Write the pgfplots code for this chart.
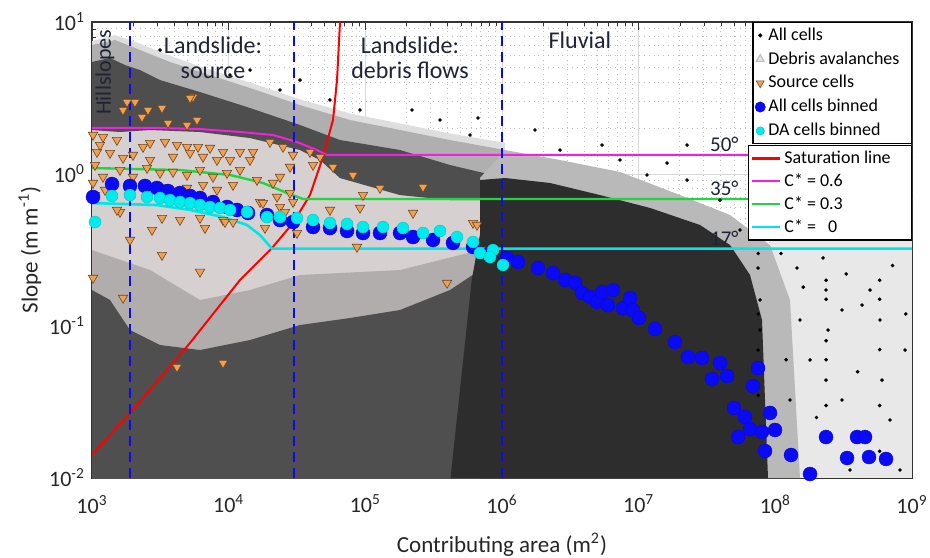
\documentclass[border=0pt]{standalone}
\usepackage{fontspec}
\setmainfont{Carlito}
\usepackage{pgfplots}
\pgfplotsset{compat=1.18}
\definecolor{dagray}{RGB}{214,208,208}
\definecolor{srcor}{RGB}{240,160,80}
\definecolor{srced}{RGB}{110,70,30}
\definecolor{binblue}{RGB}{10,10,245}
\definecolor{bincyan}{RGB}{0,235,235}
\definecolor{lnmag}{RGB}{245,30,225}
\definecolor{lngreen}{RGB}{30,215,60}
\definecolor{lncyan}{RGB}{0,230,230}
\definecolor{lbl}{RGB}{30,35,55}
\definecolor{cloudA}{RGB}{222,222,222}
\definecolor{cloudB}{RGB}{175,175,175}
\definecolor{cloudC}{RGB}{78,78,78}
\definecolor{cloudF}{RGB}{185,185,185}
\definecolor{cloudG}{RGB}{45,45,45}
\definecolor{cloudL}{RGB}{178,173,173}
\definecolor{cloudM}{RGB}{80,79,79}
\definecolor{cloudR}{RGB}{232,232,232}
\begin{document}
\begin{tikzpicture}
\begin{axis}[
  scale only axis, width=410pt, height=228pt,
  xmode=log, ymode=log, xmin=1e3, xmax=1e9, ymin=1e-2, ymax=10,
  xtick={1e3,1e4,1e5,1e6,1e7,1e8,1e9},
  xticklabels={10\textsuperscript{3},10\textsuperscript{4},10\textsuperscript{5},10\textsuperscript{6},10\textsuperscript{7},10\textsuperscript{8},10\textsuperscript{9}},
  ytick={1e-2,1e-1,1,10},
  yticklabels={10\textsuperscript{-2},10\textsuperscript{-1},10\textsuperscript{0},10\textsuperscript{1}},
  tick label style={font=\fontsize{11}{13}\selectfont, text=black!85},
  xticklabel style={yshift=-5pt},
  grid=both,
  major grid style={gray!30, line width=0.4pt},
  minor grid style={gray!50, dotted, line width=0.5pt},
  tick align=inside, major tick length=4pt, minor tick length=2pt,
  tick style={black!80},
  axis line style={line width=0.6pt, black!80},
  xlabel={Contributing area (m\textsuperscript{2})},
  ylabel={Slope (m m\textsuperscript{-1})},
  label style={font=\fontsize{11.5}{13}\selectfont, text=black!85},
  xlabel style={at={(axis description cs:0.5,-0.147)}, anchor=center},
  ylabel style={at={(axis description cs:-0.0756,0.5)}, anchor=center},
  legend style={at={(1,1)}, anchor=north east, font=\fontsize{9}{11}\selectfont,
    draw=black, line width=0.6pt, inner sep=1pt, nodes={inner sep=1.5pt}, row sep=1.2pt, cells={anchor=west}},
  legend image code/.code={\draw[mark repeat=2,mark phase=2,#1] plot coordinates {(0cm,0cm)(0.15cm,0cm)(0.3cm,0cm)};},
]
\coordinate (bl) at (rel axis cs:0,0);
\coordinate (tr) at (rel axis cs:1,1);

% debris avalanche cells region (light grey)
\addplot[fill=dagray, draw=none, forget plot] coordinates {(1000,2.008)(1897,2.008)(3146,2.008)(6166,1.977)(12100,1.890)(21090,1.806)(31620,1.623)(44260,1.438)(52450,1.334)(690200,1.334)(690200,0.01)(1000,0.01)} -- cycle;

% all cells cloud: density envelopes (sparse -> dense)
\addplot[fill=cloudR, draw=none, forget plot] coordinates {(9.142e7,0.368)(1e9,0.368)(1e9,0.01)(9.142e7,0.01)} -- cycle;
\addplot[fill=cloudA, draw=none, forget plot] coordinates {(1000,7.5)(1473,8.2)(2245,7.2)(3721,6.0)(6169,5.1)(14330,4.0)(33250,3.1)(77220,2.5)(179400,2.15)(416400,1.85)(1.052e6,1.6)(1.052e6,0.674)(416400,0.674)(179400,0.727)(65270,0.941)(46600,1.236)(33250,1.438)(14330,1.725)(6169,1.89)(2657,1.948)(1603,1.89)(1000,1.948)} -- cycle;
\addplot[fill=cloudB, draw=none, forget plot] coordinates {(1000,7.06)(1473,7.61)(2245,6.54)(3721,5.46)(6169,4.69)(14330,3.68)(33250,2.84)(77220,2.266)(179400,1.948)(416400,1.673)(1.052e6,1.438)(1.052e6,0.674)(416400,0.674)(179400,0.727)(65270,0.941)(46600,1.236)(33250,1.438)(14330,1.725)(6169,1.89)(2657,1.948)(1603,1.89)(1000,1.948)} -- cycle;
\addplot[fill=cloudC, draw=none, forget plot] coordinates {(1000,5.46)(1354,5.80)(1744,5.21)(2245,4.83)(3145,4.15)(6169,3.46)(14330,2.718)(33250,2.101)(65270,1.673)(179400,1.438)(416400,1.146)(1.052e6,0.941)(1.052e6,0.674)(416400,0.674)(179400,0.727)(65270,0.941)(46600,1.236)(33250,1.438)(14330,1.725)(6169,1.89)(2657,1.948)(1603,1.89)(1000,1.948)} -- cycle;
\addplot[fill=cloudF, draw=none, forget plot] coordinates {(1.052e6,1.438)(2.657e6,1.236)(7.30e6,1.031)(2.006e7,0.727)(4.66e7,0.537)(9.142e7,0.341)(1.28e8,0.1483)(1.515e8,0.01)(690200,0.01)(690200,0.941)} -- cycle;
\addplot[fill=cloudL, draw=none, forget plot] coordinates {(1000,0.316)(2657,0.2335)(6169,0.1483)(14330,0.1725)(33250,0.2165)(179400,0.2335)(690200,0.316)(690200,0.01)(1000,0.01)} -- cycle;
\addplot[fill=cloudM, draw=none, forget plot] coordinates {(1000,0.1725)(1354,0.1483)(1897,0.0941)(3145,0.075)(6169,0.0695)(14330,0.0809)(33250,0.1015)(77220,0.1129)(179400,0.1274)(416400,0.1725)(690200,0.2335)(690200,0.01)(1000,0.01)} -- cycle;
\addplot[fill=cloudG, draw=none, forget plot] coordinates {(690200,0.913)(1.052e6,0.941)(2.245e6,0.873)(5.212e6,0.727)(1.21e7,0.598)(2.81e7,0.462)(4.66e7,0.341)(6.526e7,0.2165)(7.988e7,0.1095)(8.403e7,0.0326)(8.838e7,0.01)(420000,0.01)(520000,0.06)(600000,0.2)(690200,0.4)} -- cycle;

% all cells: sparse individual cells
\addplot[only marks, mark=*, mark size=0.7pt, black] coordinates {(219500,2.637)(667400,2.335)(1.744e6,1.948)(5.392e6,1.551)(1.151e7,0.985)(1.612e7,1.181)(2.258e7,1.551)(2.258e7,0.913)(7.468e7,0.2407)(1.44e8,0.2407)(2.233e8,0.2803)(4.307e8,0.1374)(7.727e7,0.1483)(7.727e7,0.0941)(7.468e7,0.0695)(2.348e8,0.1725)(2.43e8,0.0941)(2.348e8,0.0441)(3.074e8,0.1274)(3.074e8,0.0326)(5.832e8,0.1095)(6.032e8,0.0441)(6.902e8,0.02407)(1.515e8,0.1095)(1.794e8,0.0598)(3.518e8,0.01129)(8.17e8,0.01129)(1.28e8,0.0326)(4.929e8,0.1725)(8.888e8,0.0695)(3145,6.54)(10230,4.48)(23740,3.57)(55130,3.07)(91410,2.637)(351800,2.266)(583200,1.806)(33250,4.15)(14330,4.83)(2.657e6,1.438)(7.30e6,1.236)(3.937e7,0.674)(5.513e7,0.428)(2.35e8,0.2)(2.35e8,0.15)(2.35e8,0.08)(2.35e8,0.06)(2.35e8,0.03)(2.35e8,0.02)(7.5e7,0.3)(7.5e7,0.12)(7.5e7,0.05)(7.5e7,0.035)(5.8e8,0.2)(5.8e8,0.15)(5.8e8,0.07)(5.8e8,0.03)(5.8e8,0.015)(1.1e8,0.3)(1.6e8,0.18)(3.3e8,0.22)(7.2e8,0.25)(9.0e8,0.12)(1.2e8,0.06)(4.0e8,0.05)(2.0e8,0.025)};
\addlegendentry{All cells}
\addlegendimage{only marks, mark=triangle*, mark size=2.3pt, mark options={fill=gray!20, draw=gray!50}}
\addlegendentry{\makebox[69pt][l]{Debris avalanches}}

% source cells
\addplot[only marks, mark=triangle*, mark size=2.7pt, mark options={rotate=180, fill=srcor, draw=srced, line width=0.3pt}, legend image post style={mark size=2.3pt}] coordinates {
(5483,3.212)(1686,2.637)(2063,2.977)(2569,2.637)(3252,2.718)(2322,2.371)(3598,2.165)(4956,2.101)(5867,2.266)
(1017,1.806)(1204,1.751)(1523,1.673)(2362,1.505)(2657,1.599)(3421,1.623)(4188,1.551)(4956,1.505)(5965,1.505)
(7300,1.483)(9090,1.395)(12100,1.395)(15070,1.395)(20060,1.623)(24980,1.505)(29560,1.334)(39370,1.395)(46600,1.294)
(1088,1.395)(1354,1.374)(1686,1.274)(2657,1.236)(3914,1.294)(5213,1.374)(6490,1.294)(8216,1.236)(10230,1.236)
(14330,1.236)(28100,1.112)(1995,1.334)
(1017,0.873)(1204,0.956)(1603,1.062)(1995,0.956)(2526,1.095)(3145,1.015)(3914,1.031)(4956,0.985)(6169,1.062)
(7680,0.956)(9723,1.015)(12100,1.062)(16120,0.913)(21100,0.873)(23740,0.956)(28100,0.750)(29560,0.654)(16960,0.654)
(10760,0.846)(8216,0.785)(6490,0.846)(4956,0.809)(3307,0.821)(1603,0.562)(3252,0.513)(4405,0.498)(9090,0.498)
(23740,0.6065)(41410,1.146)(57990,1.112)(81230,0.985)(96140,0.727)(128000,0.809)(223300,0.554)(264200,0.821)
(613500,0.476)(55130,0.580)(91410,0.598)(5213,3.162)(1804,2.977)
(656400,0.462)(396000,0.192)(86900,0.331)(6169,0.227)(3252,0.293)(2748,0.428)(1897,0.368)(1686,0.153)(4188,0.0537)
(9090,0.0571)(6712,0.441)(6169,0.513)(9402,0.483)(10760,0.483)(18450,0.441)(25840,0.562)(1523,0.580)(1017,0.207)
(31620,0.409)(17830,0.644)(22580,0.706)(1052,1.146)(1052,0.727)(1144,1.551)(1245,0.785)};
\addlegendentry{Source cells}

% model lines
\addplot[red, line width=1pt, forget plot] coordinates {(1000,0.01416)(1897,0.02676)(5212,0.0773)(12100,0.2007)(20750,0.326)(29560,0.476)(39360,0.727)(48980,1.294)(57980,2.266)(62060,4.153)(65270,10)};
\addplot[lnmag, line width=1pt, forget plot] coordinates {(1000,2.008)(3146,2.008)(6166,1.977)(12100,1.890)(21090,1.806)(31620,1.623)(44260,1.438)(52450,1.334)(1e9,1.334)};
\addplot[lngreen, line width=1.2pt, forget plot] coordinates {(1000,1.095)(4406,1.062)(10230,0.985)(17820,0.873)(26730,0.750)(34990,0.685)(1e9,0.685)};
\addplot[lncyan, line width=1.3pt, forget plot] coordinates {(1000,0.644)(2989,0.625)(5212,0.580)(9090,0.521)(13610,0.462)(16940,0.397)(20750,0.323)(1e9,0.323)};

% process domain boundaries
\addplot[binblue, line width=1pt, dash pattern=on 5pt off 3pt, forget plot] coordinates {(1900,0.01)(1900,10)};
\addplot[binblue, line width=1pt, dash pattern=on 5pt off 3pt, forget plot] coordinates {(30000,0.01)(30000,10)};
\addplot[binblue, line width=1pt, dash pattern=on 5pt off 3pt, forget plot] coordinates {(1e6,0.01)(1e6,10)};

% all cells binned
\addplot[only marks, mark=*, mark size=3.5pt, mark options={fill=binblue, draw=binblue!85!black, line width=0.2pt}, legend image post style={mark size=2.6pt}] coordinates {
(1017,0.706)(1401,0.859)(1897,0.834)(2442,0.834)(2989,0.809)(3598,0.773)(4405,0.750)(5213,0.717)(6169,0.695)
(7680,0.654)(9723,0.607)(11510,0.580)(13850,0.554)(19080,0.537)(23740,0.498)(29560,0.483)(41410,0.448)(55130,0.441)
(73430,0.422)(96140,0.409)(128000,0.409)(179400,0.409)(223300,0.385)(312700,0.368)(437900,0.352)(613500,0.331)
(817000,0.302)(1.088e6,0.280)(1.310e6,0.264)(1.834e6,0.241)(2.362e6,0.223)(2.891e6,0.201)(3.421e6,0.192)
(3.849e6,0.165)(4.405e6,0.155)(4.956e6,0.144)(5.392e6,0.167)(5.965e6,0.137)(6.490e6,0.1725)(7.680e6,0.131)
(8.643e6,0.153)(9.090e6,0.127)(1.006e7,0.113)(1.317e7,0.0956)(1.845e7,0.0785)(2.297e7,0.0625)(2.907e7,0.0616)
(3.937e7,0.0571)(3.440e7,0.0448)(4.430e7,0.0469)(7.468e7,0.0529)(6.866e7,0.0403)(4.985e7,0.0289)(5.999e7,0.0252)
(6.526e7,0.0210)(5.333e7,0.0186)(7.988e7,0.0201)(9.142e7,0.0268)(9.945e7,0.0207)(8.403e7,0.01505)(1.302e8,0.01417)
(1.794e8,0.01062)(2.348e8,0.0186)(3.345e8,0.01354)(3.960e8,0.0186)(4.531e8,0.0186)(4.845e8,0.01374)(6.453e8,0.01334)};
\addlegendentry{All cells binned}

% DA cells binned
\addplot[only marks, mark=*, mark size=3pt, mark options={fill=bincyan, draw=bincyan!85!black, line width=0.2pt}, legend image post style={mark size=2.1pt}] coordinates {
(1052,0.4832)(1401,0.7167)(1897,0.727)(2526,0.706)(3145,0.695)(3721,0.674)(4405,0.654)(5213,0.644)(6169,0.625)
(7300,0.6065)(8643,0.598)(10230,0.580)(13620,0.562)(19080,0.521)(23740,0.521)(31620,0.513)(41410,0.498)(55130,0.476)
(73430,0.469)(96140,0.448)(134700,0.448)(188600,0.441)(264200,0.409)(351800,0.422)(468500,0.385)(613500,0.357)
(690200,0.302)(859300,0.316)(817000,0.284)(1.017e6,0.252)};
\addlegendentry{DA cells binned}

% text annotations
\node[rotate=90, font=\fontsize{11}{12}\selectfont, text=lbl] at (rel axis cs:0.0159,0.89) {Hillslopes};
\node[align=center, font=\fontsize{12}{12.5}\selectfont, text=lbl] at (rel axis cs:0.1476,0.922) {Landslide:\\source};
\node[align=center, font=\fontsize{12}{12.5}\selectfont, text=lbl] at (rel axis cs:0.3878,0.922) {Landslide:\\debris flows};
\node[font=\fontsize{12}{12.5}\selectfont, text=lbl] at (rel axis cs:0.595,0.9605) {Fluvial};
\node[anchor=south east, inner sep=1.5pt, font=\fontsize{10.5}{12}\selectfont, text=lbl] at (axis cs:5.7e7,1.334) {50°};
\node[anchor=south east, inner sep=1.5pt, font=\fontsize{10.5}{12}\selectfont, text=lbl] at (axis cs:5.7e7,0.685) {35°};
\node[anchor=south east, inner sep=1.5pt, font=\fontsize{10.5}{12}\selectfont, text=lbl] at (axis cs:5.7e7,0.323) {17°};
\end{axis}

\begin{axis}[
  scale only axis, width=410pt, height=228pt,
  xmode=log, ymode=log, xmin=1e3, xmax=1e9, ymin=1e-2, ymax=10,
  hide axis,
  legend style={at={(1,0.7303)}, anchor=north east, font=\fontsize{9}{11}\selectfont,
    draw=black, line width=0.6pt, inner sep=1pt, nodes={inner sep=1.5pt}, row sep=0.6pt, cells={anchor=west}},
  legend image code/.code={\draw[#1] (0cm,0cm) -- (0.5cm,0cm);},
]
\addlegendimage{red, line width=1.3pt}
\addlegendentry{\makebox[61pt][l]{Saturation line}}
\addlegendimage{lnmag, line width=1.3pt}
\addlegendentry{C* = 0.6}
\addlegendimage{lngreen, line width=1.3pt}
\addlegendentry{C* = 0.3}
\addlegendimage{lncyan, line width=1.3pt}
\addlegendentry{C* = \ \ 0}
\end{axis}
\pgfresetboundingbox
\path[use as bounding box] ([xshift=-46pt,yshift=-39.5pt]bl) rectangle ([xshift=9pt,yshift=11pt]tr);
\end{tikzpicture}
\end{document}
